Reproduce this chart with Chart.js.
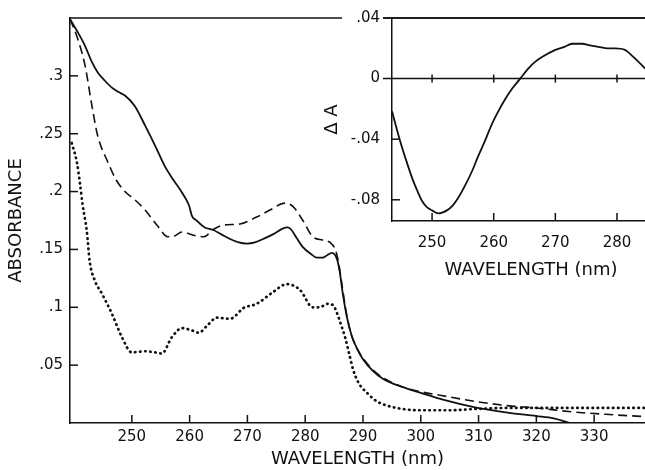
<!DOCTYPE html>
<html>
<head>
<meta charset="utf-8">
<script src="https://cdn.jsdelivr.net/npm/chart.js@4.4.0/dist/chart.umd.min.js"></script>
<style>
  html, body { margin: 0; padding: 0; background: #fff; overflow: hidden; }
  #wrap { position: relative; width: 645px; height: 470px; overflow: hidden; }
  #main { position: absolute; left: 0; top: 0; }
  #inset { position: absolute; left: 315px; top: 0; }
</style>
</head>
<body>
<div id="wrap">
  <canvas id="main" width="645" height="470"></canvas>
  <canvas id="inset" width="355" height="285"></canvas>
</div>
<script>
// main spectra (wavelength nm, absorbance)
const solidNm  = [239.3, 240.5, 241.9, 243, 244.1, 245.3, 246.5, 247.7, 248.8, 250.5, 252.3, 254, 255.7, 257.2, 258.7, 259.9, 260.4, 261.2, 262.6, 264, 265.5, 267, 268.5, 269.9, 271.3, 272.7, 274.4, 276.1, 277, 277.6, 278.5, 279.6, 281, 282, 283, 283.8, 284.6, 285.2, 285.6, 286, 286.5, 287.2, 288, 289, 290, 291.7, 293.5, 295.2, 297.5, 300, 304, 309, 315, 320, 323, 325.8];
const solidAbs = [0.349, 0.339, 0.326, 0.313, 0.303, 0.296, 0.290, 0.286, 0.283, 0.274, 0.257, 0.240, 0.222, 0.210, 0.199, 0.188, 0.179, 0.175, 0.169, 0.167, 0.163, 0.159, 0.156, 0.155, 0.156, 0.159, 0.163, 0.168, 0.169, 0.167, 0.160, 0.152, 0.146, 0.143, 0.143, 0.145, 0.147, 0.145, 0.140, 0.130, 0.112, 0.092, 0.076, 0.064, 0.055, 0.045, 0.038, 0.034, 0.030, 0.026, 0.020, 0.014, 0.009, 0.006, 0.004, 0.000];

const dashNm  = [239.3, 240.5, 241.9, 243.1, 244.1, 245.8, 247.3, 248.8, 250.5, 252.3, 254.5, 256.2, 257, 258.7, 260.9, 262.5, 264, 265.8, 268.7, 271.6, 273.9, 276.5, 277.9, 279.6, 281.3, 283.1, 284.3, 285.2, 285.8, 286.4, 287.2, 288, 289, 290, 291.7, 293.5, 296.4, 300, 303.3, 309, 315, 320, 326.4, 332, 338.8];
const dashAbs = [0.349, 0.334, 0.309, 0.274, 0.248, 0.226, 0.210, 0.200, 0.193, 0.184, 0.170, 0.161, 0.161, 0.165, 0.162, 0.161, 0.167, 0.171, 0.172, 0.178, 0.184, 0.190, 0.187, 0.175, 0.161, 0.158, 0.156, 0.150, 0.138, 0.118, 0.093, 0.076, 0.064, 0.056, 0.046, 0.039, 0.032, 0.027, 0.024, 0.019, 0.015, 0.013, 0.0095, 0.0075, 0.0055];

const dotNm  = [239.6, 240.5, 241, 241.5, 242.2, 242.7, 243.6, 244.8, 246.5, 248.3, 250, 252.3, 254, 255.2, 256.9, 258.7, 260.4, 261.6, 263, 264.7, 267, 268, 269.2, 271.6, 274.4, 276.8, 279.1, 281.3, 282.5, 283.8, 284.8, 285.5, 286.2, 286.9, 287.6, 288.3, 289.2, 290.7, 292.3, 294.2, 297, 300, 305, 309, 315, 320.6, 330, 338.8];
const dotAbs = [0.242, 0.225, 0.208, 0.188, 0.166, 0.140, 0.123, 0.112, 0.095, 0.074, 0.061, 0.062, 0.061, 0.060, 0.074, 0.082, 0.080, 0.078, 0.084, 0.091, 0.090, 0.093, 0.099, 0.103, 0.113, 0.120, 0.115, 0.100, 0.100, 0.103, 0.102, 0.095, 0.085, 0.074, 0.060, 0.046, 0.035, 0.026, 0.019, 0.015, 0.012, 0.011, 0.011, 0.012, 0.013, 0.013, 0.013, 0.013];

// inset difference spectrum
const diffNm = [243.5, 244.8, 245.8, 246.8, 247.6, 248.4, 249.2, 250, 251, 252.4, 253.3, 254.2, 255.3, 256.5, 257.5, 258.6, 259.6, 260.7, 261.8, 263, 264.3, 265.6, 266.7, 267.9, 270, 271.5, 272.7, 274.3, 275.6, 277, 278.5, 279.7, 281.3, 282.2, 283, 284.6];
const diffA  = [-0.0216, -0.041, -0.054, -0.066, -0.074, -0.081, -0.085, -0.087, -0.089, -0.087, -0.084, -0.079, -0.071, -0.061, -0.051, -0.041, -0.031, -0.022, -0.014, -0.0066, 0, 0.0066, 0.011, 0.0144, 0.019, 0.021, 0.023, 0.023, 0.022, 0.021, 0.020, 0.020, 0.019, 0.016, 0.013, 0.0066];

const mainXTicks = [250, 260, 270, 280, 290, 300, 310, 320, 330];
const mainYTicks = [0.05, 0.1, 0.15, 0.2, 0.25, 0.3];
const insetXTicks = [250, 260, 270, 280];
const insetYTicks = [-0.08, -0.04, 0, 0.04];
const insetYMarks = [-0.08, -0.04];

const ink = '#111';
Chart.defaults.font.family = 'DejaVu Sans';
Chart.defaults.color = ink;

const pts = (xs, ys) => xs.map((x, i) => ({ x: x, y: ys[i] }));
const dec = v => String(+v.toFixed(2)).replace(/^(-?)0\./, '$1.');

function seg(ctx, x0, y0, x1, y1) {
    ctx.beginPath();
    ctx.moveTo(x0, y0);
    ctx.lineTo(x1, y1);
    ctx.stroke();
}

// top frame line, inward tick marks, and the inset's zero line
function makeFrame(cfg) {
    return {
        id: cfg.id,
        beforeDraw(chart) {
            if (!cfg.mask) return;
            const ctx = chart.ctx, a = chart.chartArea;
            ctx.save();
            ctx.fillStyle = '#fff';
            ctx.fillRect(a.left - cfg.mask, a.top - 4, cfg.mask - cfg.lead, 8);
            ctx.restore();
        },
        afterDraw(chart) {
            const ctx = chart.ctx, a = chart.chartArea;
            const xs = chart.scales.x, ys = chart.scales.y;
            ctx.save();
            ctx.setLineDash([]);
            ctx.strokeStyle = ink;
            ctx.lineWidth = 1.5;
            seg(ctx, a.left - cfg.lead, a.top, a.right, a.top);
            for (const v of cfg.xMarks) {
                const px = xs.getPixelForValue(v);
                seg(ctx, px, a.bottom, px, a.bottom - 8);
            }
            for (const v of cfg.yMarks) {
                const py = ys.getPixelForValue(v);
                seg(ctx, a.left, py, a.left + 8, py);
            }
            if (cfg.zero) {
                const py = ys.getPixelForValue(0);
                seg(ctx, a.left - cfg.lead, py, a.right, py);
                for (const v of cfg.xMarks) {
                    const px = xs.getPixelForValue(v);
                    seg(ctx, px, py - 4, px, py + 4);
                }
            }
            ctx.restore();
        }
    };
}

const line = (data, extra) => Object.assign({
    data: data,
    borderColor: ink,
    borderWidth: 1.8,
    pointRadius: 0,
    fill: false,
    cubicInterpolationMode: 'monotone',
}, extra);

const fitY = w => s => { s.width = w; s.paddingTop = 0; s.paddingBottom = 0; };

new Chart(document.getElementById('main'), {
    type: 'line',
    data: {
        datasets: [
            line(pts(dotNm, dotAbs), { borderWidth: 2.7, borderDash: [0.5, 4.6], borderCapStyle: 'round' }),
            line(pts(dashNm, dashAbs), { borderWidth: 1.6, borderDash: [9, 5] }),
            line(pts(solidNm, solidAbs)),
        ]
    },
    plugins: [makeFrame({ id: 'mainFrame', xMarks: mainXTicks, yMarks: mainYTicks, lead: 0 })],
    options: {
        responsive: false,
        animation: false,
        devicePixelRatio: 1,
        layout: { padding: { top: 18, right: 0, left: 0, bottom: 0 } },
        plugins: { legend: { display: false }, tooltip: { enabled: false } },
        scales: {
            x: {
                type: 'linear', min: 239.3, max: 338.8,
                afterFit: s => { s.height = 47; },
                afterBuildTicks: s => { s.ticks = mainXTicks.map(v => ({ value: v })); },
                grid: { display: false, drawTicks: false },
                border: { display: true, color: ink, width: 1.5 },
                ticks: { padding: 5, font: { size: 15 }, maxRotation: 0, callback: v => String(v) },
                title: { display: true, text: 'WAVELENGTH (nm)', font: { size: 18 }, padding: { top: 0, bottom: 0 } }
            },
            y: {
                type: 'linear', min: 0, max: 0.35,
                afterFit: fitY(70),
                afterBuildTicks: s => { s.ticks = mainYTicks.map(v => ({ value: v })); },
                grid: { display: false, drawTicks: false },
                border: { display: true, color: ink, width: 1.5 },
                ticks: { padding: 7, font: { size: 15 }, callback: dec },
                title: { display: true, text: 'ABSORBANCE', font: { size: 18 }, padding: { top: 6, bottom: 0 } }
            }
        }
    }
});

new Chart(document.getElementById('inset'), {
    type: 'line',
    data: {
        datasets: [line(pts(diffNm, diffA))]
    },
    plugins: [makeFrame({ id: 'insetFrame', xMarks: insetXTicks, yMarks: insetYMarks, zero: true, lead: 9, mask: 50 })],
    options: {
        responsive: false,
        animation: false,
        devicePixelRatio: 1,
        layout: { padding: { top: 18, right: 0, left: 0, bottom: 0 } },
        plugins: { legend: { display: false }, tooltip: { enabled: false } },
        scales: {
            x: {
                type: 'linear', min: 243.5, max: 288.6,
                afterFit: s => { s.height = 64; },
                afterBuildTicks: s => { s.ticks = insetXTicks.map(v => ({ value: v })); },
                grid: { display: false, drawTicks: false },
                border: { display: true, color: ink, width: 1.5 },
                ticks: { padding: 13, font: { size: 15 }, maxRotation: 0, callback: v => String(v) },
                title: { display: true, text: 'WAVELENGTH (nm)', font: { size: 18 }, padding: { top: 0, bottom: 4 } }
            },
            y: {
                type: 'linear', min: -0.094, max: 0.04,
                afterFit: fitY(77),
                afterBuildTicks: s => { s.ticks = insetYTicks.map(v => ({ value: v })); },
                grid: { display: false, drawTicks: false },
                border: { display: true, color: ink, width: 1.5 },
                ticks: { padding: 12, font: { size: 15 }, callback: v => v === 0 ? '0' : dec(v) },
                title: { display: true, text: 'Δ A', font: { size: 18 }, padding: { top: 7, bottom: 0 } }
            }
        }
    }
});
</script>
</body>
</html>
